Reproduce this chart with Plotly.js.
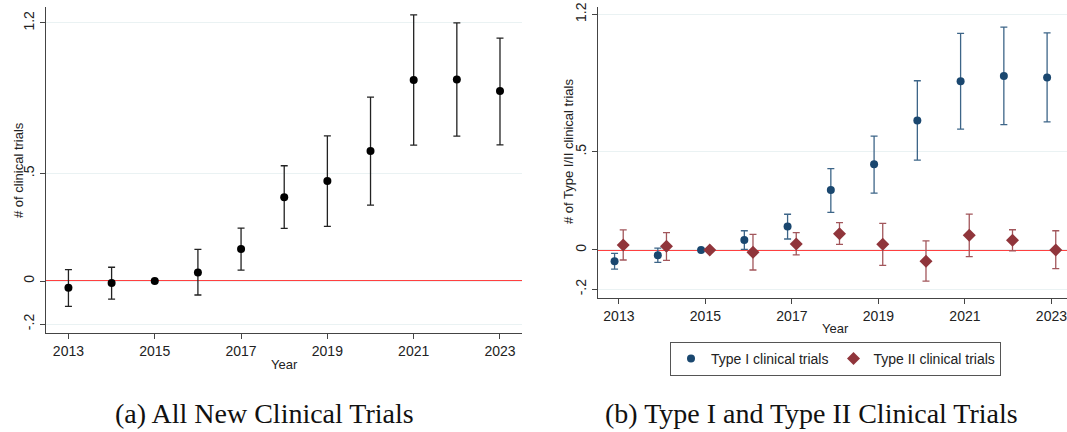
<!DOCTYPE html>
<html>
<head>
<meta charset="utf-8">
<script src="https://cdn.plot.ly/plotly-3.0.1.min.js"></script>
<style>
  html, body { margin: 0; padding: 0; background: #fff; }
  #chart { width: 1067px; height: 432px; }
</style>
</head>
<body>
<div id="chart"></div>
<script>
// Event-study estimates by year, with 95% confidence bounds
var years = [2013, 2014, 2015, 2016, 2017, 2018, 2019, 2020, 2021, 2022, 2023];

// Panel (a): all new clinical trials
var allEst  = [-0.031, -0.009, 0, 0.040, 0.149, 0.390, 0.465, 0.604, 0.935, 0.937, 0.883];
var allLow  = [-0.118, -0.084, null, -0.065, 0.051, 0.245, 0.254, 0.353, 0.632, 0.674, 0.633];
var allHigh = [0.053, 0.064, null, 0.147, 0.246, 0.536, 0.675, 0.855, 1.237, 1.200, 1.129];

// Panel (b): Type I trials
var t1Est  = [-0.058, -0.027, 0, 0.051, 0.119, 0.305, 0.436, 0.660, 0.859, 0.886, 0.879];
var t1Low  = [-0.097, -0.063, null, 0.003, 0.056, 0.192, 0.290, 0.458, 0.616, 0.638, 0.652];
var t1High = [-0.017, 0.009, null, 0.098, 0.182, 0.414, 0.580, 0.862, 1.103, 1.135, 1.106];

// Panel (b): Type II trials
var t2Est  = [0.025, 0.019, 0, -0.012, 0.031, 0.083, 0.029, -0.058, 0.075, 0.049, 0.000];
var t2Low  = [-0.051, -0.053, null, -0.102, -0.025, 0.029, -0.078, -0.159, -0.034, -0.005, -0.095];
var t2High = [0.102, 0.088, null, 0.080, 0.088, 0.139, 0.136, 0.046, 0.183, 0.103, 0.098];

var yTickVals = [-0.2, 0, 0.5, 1.2];
var yTickText = ['-.2', '0', '.5', '1.2'];
var xTickVals = [2013, 2015, 2017, 2019, 2021, 2023];

var NAVY = '#1a476f';
var MAROON = '#90353b';
var FONT = 'Liberation Sans, Arial, sans-serif';
var SERIF = 'Liberation Serif, Times New Roman, serif';
var DODGE = 0.1;

function errUp(est, hi) {
  return est.map(function (v, i) { return hi[i] == null ? null : hi[i] - v; });
}
function errDown(est, lo) {
  return est.map(function (v, i) { return lo[i] == null ? null : v - lo[i]; });
}
function shift(xs, d) {
  return xs.map(function (x) { return x + d; });
}

var traces = [
  {
    x: years, y: allEst, type: 'scatter', mode: 'markers',
    xaxis: 'x', yaxis: 'y', showlegend: false,
    marker: { color: '#000', size: 8, symbol: 'circle' },
    error_y: { type: 'data', symmetric: false,
      array: errUp(allEst, allHigh), arrayminus: errDown(allEst, allLow),
      color: '#222', thickness: 1.3, width: 3.5 }
  },
  {
    x: shift(years, -DODGE), y: t1Est, type: 'scatter', mode: 'markers',
    name: 'Type I clinical trials',
    xaxis: 'x2', yaxis: 'y2',
    marker: { color: NAVY, size: 8, symbol: 'circle' },
    error_y: { type: 'data', symmetric: false,
      array: errUp(t1Est, t1High), arrayminus: errDown(t1Est, t1Low),
      color: '#3d6588', thickness: 1.3, width: 3.5 }
  },
  {
    x: shift(years, DODGE), y: t2Est, type: 'scatter', mode: 'markers',
    name: 'Type II clinical trials',
    xaxis: 'x2', yaxis: 'y2',
    marker: { color: MAROON, size: 10, symbol: 'diamond' },
    error_y: { type: 'data', symmetric: false,
      array: errUp(t2Est, t2High), arrayminus: errDown(t2Est, t2Low),
      color: '#a2565b', thickness: 1.3, width: 3.5 }
  }
];

function yAxis(domain, range, anchor) {
  return {
    domain: domain, range: range, anchor: anchor,
    tickvals: yTickVals, ticktext: yTickText,
    tickangle: -90, ticks: 'outside', ticklen: 5, tickcolor: '#444', tickwidth: 1,
    showline: true, linecolor: '#444', linewidth: 1,
    showgrid: true, gridcolor: '#eaf2f3', gridwidth: 1, zeroline: false,
    tickfont: { family: FONT, size: 14, color: '#222' }, fixedrange: true
  };
}
function xAxis(domain, range, anchor) {
  return {
    domain: domain, range: range, tickvals: xTickVals, anchor: anchor,
    ticks: 'outside', ticklen: 5, tickcolor: '#444', tickwidth: 1,
    showline: true, linecolor: '#444', linewidth: 1,
    showgrid: false, zeroline: false, ticklabeloverflow: 'allow',
    tickfont: { family: FONT, size: 14, color: '#222' }, fixedrange: true
  };
}

function label(text, px, py, opts) {
  var a = {
    text: text, xref: 'paper', yref: 'paper', x: px / 1067, y: (432 - py) / 432,
    xanchor: 'center', yanchor: 'middle', showarrow: false,
    font: { family: FONT, size: 13, color: '#222' }
  };
  for (var k in opts) a[k] = opts[k];
  return a;
}

var layout = {
  width: 1067, height: 432,
  margin: { l: 0, r: 0, t: 0, b: 0 },
  paper_bgcolor: '#fff', plot_bgcolor: '#fff',
  font: { family: FONT, size: 13, color: '#222' },
  xaxis: xAxis([46 / 1067, 522 / 1067], [2012.48, 2023.51], 'y'),
  yaxis: yAxis([99 / 432, 425 / 432], [-0.2416, 1.274], 'x'),
  xaxis2: xAxis([597.7 / 1067, 1], [2012.51, 2023.36], 'y2'),
  yaxis2: yAxis([134.3 / 432, 425.3 / 432], [-0.243, 1.239], 'x2'),
  showlegend: true,
  legend: {
    orientation: 'h', x: 835.5 / 1067, xanchor: 'center',
    y: (432 - 342) / 432, yanchor: 'top',
    bordercolor: '#555', borderwidth: 1, bgcolor: '#fff',
    font: { family: FONT, size: 14, color: '#222' },
    itemwidth: 30, tracegroupgap: 0
  },
  shapes: [
    { type: 'line', xref: 'x domain', yref: 'y', x0: 0, x1: 1, y0: 0, y1: 0,
      line: { color: '#ff0000', width: 1.5 }, layer: 'below' },
    { type: 'line', xref: 'x2 domain', yref: 'y2', x0: 0, x1: 1, y0: 0, y1: 0,
      line: { color: '#ff0000', width: 1.5 }, layer: 'below' }
  ],
  annotations: [
    label('Year', 284, 364),
    label('Year', 835, 328),
    label('# of clinical trials', 18, 170, { textangle: -90 }),
    label('# of Type I/II clinical trials', 568, 152, { textangle: -90 }),
    label('(a) All New Clinical Trials', 264.5, 413,
      { font: { family: SERIF, size: 28, color: '#111' } }),
    label('(b) Type I and Type II Clinical Trials', 811, 413,
      { font: { family: SERIF, size: 28, color: '#111' } })
  ]
};

Plotly.newPlot('chart', traces, layout, { staticPlot: true, displayModeBar: false });
</script>
</body>
</html>
